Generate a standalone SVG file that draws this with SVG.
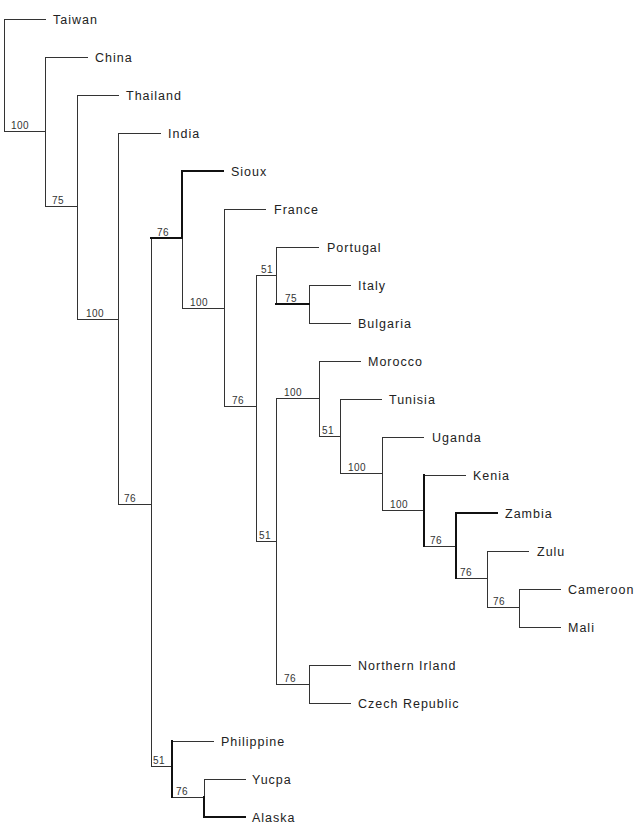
<svg xmlns="http://www.w3.org/2000/svg" width="642" height="835" viewBox="0 0 642 835">
<style>
.e{fill:none;stroke:#333;stroke-width:1;stroke-linecap:square}
.t{fill:none;stroke:#111;stroke-width:2;stroke-linecap:square}
.lf{font-family:"Liberation Sans",Arial,sans-serif;font-size:12.5px;letter-spacing:1px;fill:#222}
.bs{font-family:"Liberation Sans",Arial,sans-serif;font-size:10px;letter-spacing:0.4px;fill:#333}
</style>
<rect width="642" height="835" fill="#fff"/>
<g id="connectors">
<path class="e" d="M4.5,19.5V131.5 M4.5,19.5H45.5 M4.5,131.5H45.5 M45.5,57.5V206.5 M45.5,57.5H87.5 M45.5,206.5H77.5 M77.5,95.5V319.5 M77.5,95.5H118.5 M77.5,319.5H118.5 M118.5,133.5V504.5 M118.5,133.5H160.5 M118.5,504.5H151.5 M151.5,238.5V766.5 M182.5,238.5V308.5 M182.5,308.5H224.5 M224.5,209.5V406.5 M224.5,209.5H265.5 M224.5,406.5H256.5 M256.5,275.5V541.5 M256.5,275.5H276.5 M276.5,247.5V304.5 M276.5,247.5H318.5 M309.5,285.5V323.5 M309.5,285.5H350.5 M309.5,323.5H350.5 M256.5,541.5H276.5 M276.5,398.5V684.5 M276.5,398.5H319.5 M319.5,361.5V436.5 M319.5,361.5H360.5 M319.5,436.5H340.5 M340.5,399.5V473.5 M340.5,399.5H381.5 M340.5,473.5H382.5 M382.5,437.5V510.5 M382.5,437.5H423.5 M382.5,510.5H424.5 M424.5,475.5H465.5 M424.5,546.5H456.5 M456.5,578.5H487.5 M487.5,551.5V607.5 M487.5,551.5H528.5 M487.5,607.5H519.5 M519.5,589.5V627.5 M519.5,589.5H560.5 M519.5,627.5H560.5 M276.5,684.5H309.5 M309.5,665.5V703.5 M309.5,665.5H350.5 M309.5,703.5H350.5 M151.5,766.5H172.5 M172.5,741.5H213.5 M172.5,797.5H204.5 M204.5,779.5V797.5 M204.5,779.5H245.5"/>
<path class="t" d="M151,238H182 M182,171V238 M182,171H223 M276,304H309 M424,475V546 M456,513V578 M456,513H497 M172,741V797 M204,797V817 M204,817H245"/>
</g>
<g id="leaves">
<g id="n-taiwan"><text class="lf" x="53" y="24">Taiwan</text></g>
<g id="n-china"><text class="lf" x="95" y="62">China</text></g>
<g id="n-thailand"><text class="lf" x="126" y="100">Thailand</text></g>
<g id="n-india"><text class="lf" x="168" y="138">India</text></g>
<g id="n-sioux"><text class="lf" x="231" y="176">Sioux</text></g>
<g id="n-france"><text class="lf" x="274" y="214">France</text></g>
<g id="n-portugal"><text class="lf" x="327" y="252">Portugal</text></g>
<g id="n-italy"><text class="lf" x="358" y="290">Italy</text></g>
<g id="n-bulgaria"><text class="lf" x="358" y="328">Bulgaria</text></g>
<g id="n-morocco"><text class="lf" x="368" y="366">Morocco</text></g>
<g id="n-tunisia"><text class="lf" x="389" y="404">Tunisia</text></g>
<g id="n-uganda"><text class="lf" x="432" y="442">Uganda</text></g>
<g id="n-kenia"><text class="lf" x="473" y="480">Kenia</text></g>
<g id="n-zambia"><text class="lf" x="505" y="518">Zambia</text></g>
<g id="n-zulu"><text class="lf" x="537" y="556">Zulu</text></g>
<g id="n-cameroon"><text class="lf" x="568" y="594">Cameroon</text></g>
<g id="n-mali"><text class="lf" x="568" y="632">Mali</text></g>
<g id="n-nirland"><text class="lf" x="358" y="670">Northern Irland</text></g>
<g id="n-czech"><text class="lf" x="358" y="708">Czech Republic</text></g>
<g id="n-philippine"><text class="lf" x="221" y="746">Philippine</text></g>
<g id="n-yucpa"><text class="lf" x="252" y="784">Yucpa</text></g>
<g id="n-alaska"><text class="lf" x="252" y="822">Alaska</text></g>
</g>
<g id="internal">
<g id="i1"><text class="bs" x="11" y="129">100</text></g>
<g id="i2"><text class="bs" x="52" y="204">75</text></g>
<g id="i3"><text class="bs" x="86" y="317">100</text></g>
<g id="i4"><text class="bs" x="124" y="502">76</text></g>
<g id="i5"><text class="bs" x="157" y="236">76</text></g>
<g id="i6"><text class="bs" x="190" y="306">100</text></g>
<g id="i7"><text class="bs" x="232" y="404">76</text></g>
<g id="i8"><text class="bs" x="261" y="273">51</text></g>
<g id="i9"><text class="bs" x="285" y="302">75</text></g>
<g id="i10"><text class="bs" x="259" y="539">51</text></g>
<g id="i11"><text class="bs" x="284" y="396">100</text></g>
<g id="i12"><text class="bs" x="322" y="434">51</text></g>
<g id="i13"><text class="bs" x="348" y="471">100</text></g>
<g id="i14"><text class="bs" x="390" y="508">100</text></g>
<g id="i15"><text class="bs" x="430" y="544">76</text></g>
<g id="i16"><text class="bs" x="460" y="576">76</text></g>
<g id="i17"><text class="bs" x="493" y="605">76</text></g>
<g id="i18"><text class="bs" x="284" y="682">76</text></g>
<g id="i19"><text class="bs" x="153" y="764">51</text></g>
<g id="i20"><text class="bs" x="176" y="795">76</text></g>
</g>
</svg>
